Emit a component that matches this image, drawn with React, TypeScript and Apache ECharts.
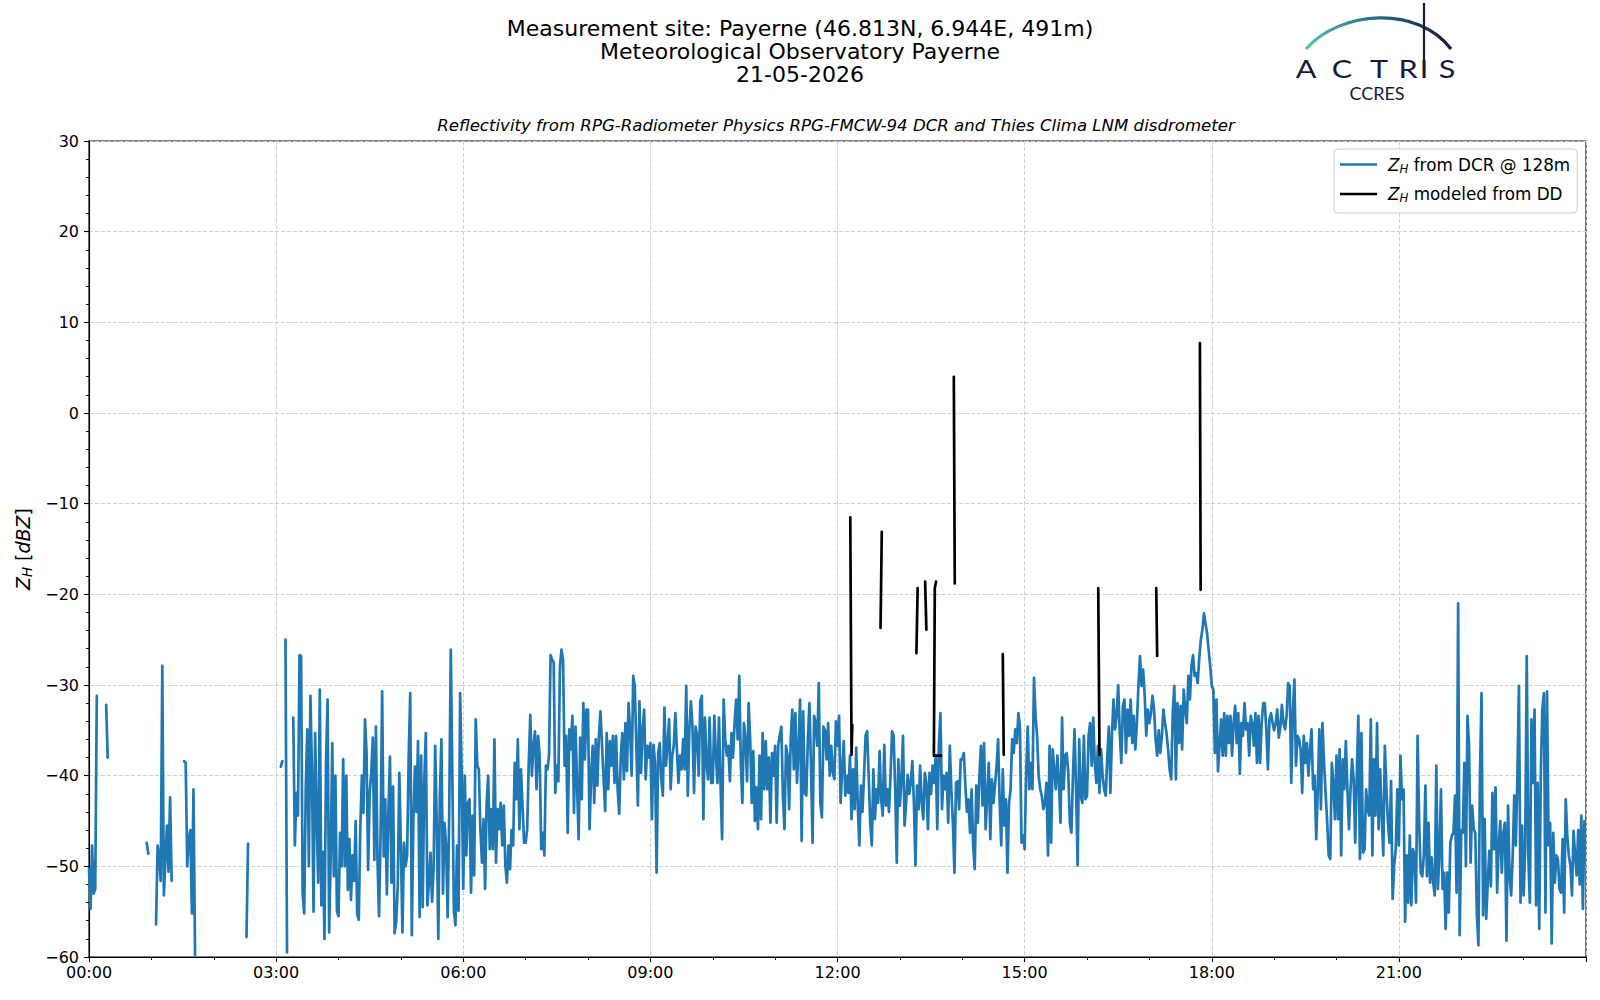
import React, { useEffect, useRef } from "react";
import * as echarts from "echarts";

const FONT = "DejaVu Sans";
const BLUE = "#1f77b4";
const NAVY = "#161a3a";
const N = null;

// Reflectivity from DCR at 128 m: one value every 1.5 min (0.025 h), hour by hour. N = no data
const h00 = [-50.3, -54.7, -47.7, -53, -52.5, -31.2, N, N, N, N, N, -32.2, -38,
  N, N, N, N, N, N, N, N, N, N, N, N, N, N, N, N, N, N, N, N, N, N, N, N, -47.4, -48.6, N];
const h01 = [N, N, N, -56.4, -47.7, -49, -51.6, -27.9, -53.2, -49.2, -45.5, -50.6, -42.4, -51.6,
  N, N, N, N, N, N, N, -38.4, -38.6, -50, -47, -46, -55.2, -41.5, -59.8, N, N, N, N, N, N, N, N, N, N, N];
const h02 = [N, N, N, N, N, N, N, N, N, N, N, N, N, N, N, N, N, N, N, N, N, -57.8, -47.5,
  N, N, N, N, N, N, N, N, N, N, N, N, N, N, N, N, N];
const h03 = [N, N, N, -39, -38.4, N, -25, -59.5, N, N, N, -33.6, -47.7, -41.9, -44.4, -26.7, -26.8, -52.9, -55.2, -41.4,
  -34.9, -50, -31.2, -39.7, -55, -35.3, -44.8, -51.8, -30.5, -54.3, -48.4, -58, -38.6, -31.6, -57.3, -48.8, -36.4, -51.1, -40, -55];
const h04 = [-55.5, -46.3, -50, -38.2, -50, -40, -52.6, -47, -53.7, -48.8, -51.6, -45, -55.3, -55.9, -45.6, -40, -44.1, -33.8, -37.5, -50.4,
  -41.9, -39.7, -35.8, -49.3, -34.6, -49.3, -55.5, -46.3, -30.7, -48.9, -42.6, -53.1, -44.1, -37.9, -51.8, -41.2, -57.4, -56.1, -52.2, -39.7];
const h05 = [-47.7, -57.3, -47.4, -50, -48.8, -38, -30.9, -57.6, -45, -39, -44, -36.2, -55.6, -37.8, -54.5, -40.6, -35.3, -54.3, -51.8, -48.5,
  -53.9, -50.3, -36.7, -45, -58, -42.2, -36, -53, -45.2, -47.7, -55.6, -44, -26.1, -40, -54.9, -56.5, -47.7, -54.9, -30.9, -39.7];
const h06 = [-52.5, -40, -48.8, -43, -42.6, -52.9, -44.4, -51, -33.8, -38.9, -39.3, -46, -49.6, -44.8, -52.5, -43, -40, -48.1, -43.7, -48.1,
  -36, -49.6, -43.7, -45.9, -43, -47.7, -43.3, -49.9, -51.8, -47.7, -50.3, -46, -47.7, -38.6, -42.6, -36, -45.9, -39.3, -43.3, -47.4];
const h07 = [-47.4, -45.9, -38.6, -33.3, -40, -36.7, -35.1, -41.5, -35.6, -37.8, -48.1, -46.3, -48.8, -38.9, -39.3, -37.8, -26.7, -27.2, -27.5, -41.9,
  -38.9, -40.6, -28, -26.1, -27.2, -38.9, -35.6, -46.3, -34.9, -37.1, -33.4, -44.1, -34.6, -41.1, -47, -35.8, -42.6, -32, -38.2, -32.7];
const h08 = [-32.7, -45.9, -40, -36.7, -43, -36, -41.1, -35.6, -32.9, -36.7, -40.4, -43.9, -35.3, -41.5, -36.2, -38.9, -35.6, -40.8, -35.6, -41.5,
  -44.2, -38, -35.3, -40.4, -34.2, -39.5, -32, -35, -40, -29, -30.1, -36.7, -43.3, -31.8, -39.7, -35, -32.7, -40.4, -36.7, -38];
const h09 = [-36.4, -44.8, -36.6, -38.6, -50.7, -37.5, -36.4, -40.4, -42.2, -32.5, -38.9, -36.7, -33.8, -41.5, -37.8, -36.7, -33.1, -37.1, -40.8, -37.8,
  -39.3, -36, -39.3, -30.1, -42.2, -34.9, -31.8, -34.6, -41.9, -34.6, -35.6, -40, -31.8, -31.2, -44.8, -33.6, -38.6, -40.4, -33.6, -40.8];
const h10 = [-40.8, -33.4, -37.8, -40.8, -33.6, -41, -47, -31.6, -36, -37.8, -36.7, -40.6, -35.3, -38, -34.2, -31.6, -36, -29, -38.6, -43,
  -34.2, -36, -40.6, -32, -36, -43, -37.3, -45, -41.3, -45.9, -37.8, -44.8, -35.3, -41.5, -36.2, -41.5, -38, -45.2, -37.5, -40];
const h11 = [-36.7, -45.2, -36.7, -35.5, -34.6, -42.2, -45.9, -36.7, -37.8, -43.7, -36, -32.7, -39.3, -33.1, -40.8, -37, -31.6, -47.2, -32.9, -41.9,
  -42.2, -36, -32, -38.9, -47.4, -33.4, -34.2, -36.7, -29.8, -43, -44.6, -34.6, -35, -38.2, -34.2, -40, -36.7, -39.7, -40.4, -34];
const h12 = [-36.7, -33.4, -43, -39.3, -36.2, -42.2, -40, -41.9, -37.8, -44.8, -39.3, -43.7, -36.9, -43.3, -47.7, -41.1, -44, -40, -35.6, -35.1,
  -40, -45.2, -47.7, -39.3, -44.8, -41.5, -43, -37.3, -42.6, -44.4, -36.6, -43.3, -41.5, -44, -40, -35.1, -35.6, -41.5, -49.6, -38.2];
const h13 = [-43.3, -40.4, -35.6, -45.5, -43, -39.9, -42, -40.8, -38.4, -43, -49.9, -41.1, -43.7, -38.9, -43, -44.8, -39.7, -40.8, -45.9, -39.7,
  -42, -38.9, -40.8, -37.8, -45.9, -36.7, -33.1, -43.7, -40, -41.5, -39.7, -45.2, -36.7, -41.5, -45.2, -50.7, -40.8, -40.6, -43.7, -38.2];
const h14 = [-38.2, -37.5, -41.1, -44, -42.6, -46.3, -41.5, -47.7, -50.3, -41.1, -45.2, -40, -36.7, -43.3, -36.4, -45.9, -42.2, -38.6, -47, -40.4,
  -43, -41, -39, -36, -43, -47.7, -39.3, -45.5, -42.6, -50.7, -43, -41.5, -36, -37.5, -34.9, -36.4, -33.1, -34.6, -47.4, -46.6];
const h15 = [-48.1, -39.7, -34.6, -41.5, -38.6, -41.5, -29.2, -33.4, -35.6, -40, -41.5, -42.2, -43.7, -43, -40.8, -48.8, -36.7, -47.4, -37.1, -39.3,
  -41.5, -37.8, -40.8, -45.2, -33.6, -41.5, -37.8, -37.5, -39.7, -45.2, -46.3, -40, -34.9, -41.5, -49.9, -36, -42.2, -43, -35.6, -42.6];
const h16 = [-42.2, -35.6, -34.2, -38.9, -33.6, -38.6, -40.8, -36.7, -41.9, -37.1, -40, -41.5, -42.2, -38, -34.6, -41.9, -35.6, -31.6, -34.9, -33.4,
  -30, -35.3, -38.6, -32.3, -31.6, -37.5, -32.7, -35.6, -31.6, -36.4, -33.4, -37.1, -34.2, -30, -26.8, -30.1, -28.3, -31.2, -35.6, -32.7];
const h17 = [-34.2, -33.1, -31.2, -32.7, -36, -37.8, -35, -37.5, -35.6, -32.7, -34.2, -35.3, -37.1, -39.3, -40.4, -33, -30.1, -40.4, -32, -36.4,
  -32.3, -37.1, -30.5, -32.7, -34.2, -29, -31.6, -27.9, -26.7, -29, -28.7, -29.8, -27, -25, -23.9, -22.1, -23.2, -24.3, -26.1, -27.9];
const h18 = [-30.1, -30.5, -37.5, -31.6, -39.5, -36.7, -33.8, -37.8, -33.1, -37.8, -33.4, -36.4, -33.4, -37.8, -34.2, -32.3, -36.4, -33.1, -39.8, -34.2,
  -35.6, -32, -34.9, -34.2, -37.8, -33.4, -34.2, -36.7, -33.1, -38.6, -33.4, -38.6, -34.2, -32, -32, -34.9, -39.3, -33.8, -33.1, -34.2];
const h19 = [-35, -34.2, -32.7, -35.8, -34.6, -32.2, -34.2, -34.9, -33.4, -29.8, -30.1, -40.8, -33, -29.4, -38.9, -35.6, -36, -37.1, -41.9, -35.6,
  -38.6, -36.4, -40, -37.1, -34.9, -41.5, -40, -47, -41.5, -34.9, -43.7, -34.2, -38.6, -41.9, -45, -48.8, -49.2, -38.6, -40.8, -44.8];
const h20 = [-37.8, -44.8, -37.1, -48.8, -38.2, -41.5, -36.2, -41.5, -45.9, -41.5, -38.2, -40.4, -47.4, -40, -33.4, -49.2, -35.3, -48.5, -48.1, -41.5,
  -43.7, -44.4, -33.8, -48.8, -38.2, -44.4, -34.2, -45.9, -39.3, -44.4, -48.8, -36.7, -41.5, -45.2, -47.4, -40.6, -53.6, -49.9, -48.1, -41.5];
const h21 = [-47.7, -37.8, -42.6, -41.5, -56.1, -48.8, -54, -46.6, -54.3, -48.1, -48.8, -54, -35.6, -45.2, -50.7, -51.1, -48.8, -41.1, -51.1, -45.2,
  -51.8, -49, -51.8, -53.2, -38.9, -52.5, -48.8, -41.5, -52.5, -50.7, -56.9, -50.7, -55.1, -47.4, -46.6, -46.3, -42.2, -52.9, -21, -57.6];
const h22 = [-46, -46.3, -38.6, -50, -33.4, -36.7, -49.6, -43.3, -45.9, -46.3, -55.2, -58.7, -40, -30.9, -55.4, -44.8, -55.8, -51.8, -48.3, -52.2,
  -41.9, -48.1, -41.3, -52.9, -47.7, -45, -50.7, -46.3, -45.2, -58.2, -43.3, -51.1, -53.2, -48.8, -42.2, -47.7, -40, -30.1, -54, -45.5];
const h23 = [-53.2, -48, -26.8, -48.8, -54, -33.8, -40.8, -32.7, -54.3, -40.8, -56.9, -40, -32.7, -30.9, -55.1, -30.7, -47.7, -45.2, -58.5, -46.3,
  -51.8, -48.8, -49.2, -52.5, -52.9, -47, -55.1, -42.6, -46.6, -48.8, -49.9, -53.2, -46.1, -48.8, -51, -46, -52, -44.4, -54.7, -45];
const dcrHours = [h00, h01, h02, h03, h04, h05, h06, h07, h08, h09, h10, h11, h12, h13, h14, h15, h16, h17, h18, h19, h20, h21, h22, h23];
const STEP_H = 0.025;

// Reflectivity modeled from the disdrometer (hours, dBZ); a null value breaks the line
const ddTimes = [12.205, 12.225, 12.237, 12.3, 12.69, 12.71, 12.8, 13.265, 13.285, 13.35, 13.405, 13.425, 13.5, 13.545, 13.56, 13.58, 13.6, 13.55, 13.66, 13.7, 13.865, 13.88, 14.2, 14.65, 14.665, 15.0, 16.18, 16.2, 16.5, 17.11, 17.125, 17.5, 17.81, 17.822];
const ddValues = [-11.5, -37.7, -34.4, null, -23.7, -13.1, null, -26.5, -19.3, null, -18.6, -23.9, null, -37.8, -19.3, -18.6, null, -37.8, -37.8, null, 4.0, -18.8, null, -26.6, -37.7, null, -19.3, -37.7, null, -19.3, -26.8, null, 7.7, -19.5];

const yMin = -60;
const yMax = 30;
const xHoursMax = 24;

const TITLE_LINES = [
  "Measurement site: Payerne (46.813N, 6.944E, 491m)",
  "Meteorological Observatory Payerne",
  "21-05-2026",
];
const SUBTITLE = "Reflectivity from RPG-Radiometer Physics RPG-FMCW-94 DCR and Thies Clima LNM disdrometer";
const SERIES_DCR = "Z_H from DCR @ 128m";
const SERIES_DD = "Z_H modeled from DD";

export default function App() {
  const ref = useRef<HTMLDivElement>(null);
  useEffect(() => {
    if (!ref.current) return;
    const chart = echarts.init(ref.current, undefined, { renderer: "svg" });
    const dcrData = dcrHours.flatMap((arr, h) => arr.map((v, p) => [h + p * STEP_H, v === null ? "-" : v]));
    const ddData = ddTimes.map((t, i) => [t, ddValues[i] === null ? "-" : ddValues[i]]);

    const legendRich = {
      z: { fontFamily: FONT, fontSize: 16.8, fontStyle: "italic", lineHeight: 20, color: "#000" },
      s: { fontFamily: FONT, fontSize: 11.8, fontStyle: "italic", lineHeight: 8, verticalAlign: "bottom", color: "#000" },
      t: { fontFamily: FONT, fontSize: 16.8, lineHeight: 20, color: "#000" },
    };
    const nameRich = {
      z: { fontFamily: FONT, fontSize: 19, fontStyle: "italic", lineHeight: 23, color: "#000" },
      s: { fontFamily: FONT, fontSize: 13.3, fontStyle: "italic", lineHeight: 9, verticalAlign: "bottom", color: "#000" },
      t: { fontFamily: FONT, fontSize: 19, lineHeight: 23, color: "#000" },
      i: { fontFamily: FONT, fontSize: 19, fontStyle: "italic", lineHeight: 23, color: "#000" },
    };

    const letters = [
      { ch: "A", x: 1306 },
      { ch: "C", x: 1342 },
      { ch: "T", x: 1379 },
      { ch: "R", x: 1408 },
      { ch: "I", x: 1424 },
      { ch: "S", x: 1447 },
    ];

    const option: any = {
      animation: false,
      backgroundColor: "#ffffff",
      textStyle: { fontFamily: FONT },
      grid: {
        left: 89,
        top: 141,
        width: 1497,
        height: 816,
        show: true,
        borderColor: "#000",
        borderWidth: 1.1,
        backgroundColor: "transparent",
        containLabel: false,
        outerBoundsMode: "none",
      },
      legend: {
        left: 1334,
        top: 149,
        orient: "vertical",
        icon: "rect",
        itemWidth: 37,
        itemHeight: 2.7,
        itemGap: 11,
        padding: [7, 7, 9, 6],
        backgroundColor: "rgba(255,255,255,0.8)",
        borderColor: "#cccccc",
        borderWidth: 1,
        borderRadius: 4,
        data: [SERIES_DCR, SERIES_DD],
        formatter: (name: string) =>
          name === SERIES_DCR ? "{z|Z}{s|H}{t| from DCR @ 128m}" : "{z|Z}{s|H}{t| modeled from DD}",
        textStyle: { fontFamily: FONT, fontSize: 16.8, color: "#000", padding: [0, 0, 0, 6], rich: legendRich },
      },
      xAxis: {
        type: "value",
        min: 0,
        max: xHoursMax,
        interval: 3,
        axisLine: { show: true, onZero: false, lineStyle: { color: "#000", width: 1.1 } },
        axisTick: { show: true, length: 5, inside: false, lineStyle: { color: "#000", width: 1.1 } },
        minorTick: { show: true, splitNumber: 3, length: 3, lineStyle: { color: "#000", width: 1 } },
        axisLabel: {
          color: "#000",
          fontFamily: FONT,
          fontSize: 16,
          margin: 7,
          formatter: (v: number) => (v >= xHoursMax ? "" : String(v).padStart(2, "0") + ":00"),
        },
        splitLine: { show: true, lineStyle: { color: "#cfcfcf", width: 1, type: [4, 2] } },
      },
      yAxis: {
        type: "value",
        min: yMin,
        max: yMax,
        interval: 10,
        name: "{z|Z}{s|H}{t| [}{i|dBZ}{t|]}",
        nameLocation: "middle",
        nameRotate: 90,
        nameGap: 55,
        nameTextStyle: { fontFamily: FONT, fontSize: 19, color: "#000", rich: nameRich },
        axisLine: { show: true, onZero: false, lineStyle: { color: "#000", width: 1.1 } },
        axisTick: { show: true, length: 5, inside: false, lineStyle: { color: "#000", width: 1.1 } },
        minorTick: { show: true, splitNumber: 5, length: 3, lineStyle: { color: "#000", width: 1 } },
        axisLabel: {
          color: "#000",
          fontFamily: FONT,
          fontSize: 16,
          margin: 10,
          formatter: (v: number) => (v < 0 ? "\u2212" + Math.abs(v) : String(v)),
        },
        splitLine: { show: true, lineStyle: { color: "#cfcfcf", width: 1, type: [4, 2] } },
      },
      series: [
        {
          name: SERIES_DCR,
          type: "line",
          data: dcrData,
          showSymbol: false,
          symbol: "none",
          connectNulls: false,
          color: BLUE,
          lineStyle: { color: BLUE, width: 2.7, join: "round", cap: "round" },
          z: 2,
        },
        {
          name: SERIES_DD,
          type: "line",
          data: ddData,
          showSymbol: false,
          symbol: "none",
          connectNulls: false,
          color: "#000000",
          lineStyle: { color: "#000000", width: 2.7, join: "round", cap: "round" },
          z: 3,
        },
      ],
      graphic: [
        ...TITLE_LINES.map((t, k) => ({
          type: "text",
          x: 800,
          y: 28.6 + k * 23,
          style: { text: t, fill: "#000", fontFamily: FONT, fontSize: 22, align: "center", verticalAlign: "middle" },
        })),
        {
          type: "text",
          x: 836,
          y: 125.5,
          style: { text: SUBTITLE, fill: "#000", fontFamily: FONT, fontSize: 16.6, fontStyle: "italic", align: "center", verticalAlign: "middle" },
        },
        {
          type: "bezierCurve",
          shape: { x1: 1306, y1: 49, cpx1: 1340, cpy1: 10, cpx2: 1418, cpy2: 5, x2: 1451, y2: 49 },
          style: {
            fill: null,
            lineWidth: 3.2,
            stroke: new echarts.graphic.LinearGradient(0, 0, 1, 0, [
              { offset: 0, color: "#5cbdb5" },
              { offset: 0.45, color: "#2a7088" },
              { offset: 1, color: NAVY },
            ]),
          },
        },
        {
          type: "line",
          shape: { x1: 1424, y1: 3, x2: 1424, y2: 62 },
          style: { stroke: NAVY, lineWidth: 2.2 },
        },
        ...letters.map((l) => ({
          type: "text",
          x: l.x,
          y: 68.3,
          scaleX: 1.2,
          style: { text: l.ch, fill: NAVY, fontFamily: "Lato", fontSize: 25.5, align: "center", verticalAlign: "middle" },
        })),
        {
          type: "text",
          x: 1377,
          y: 92.7,
          style: { text: "CCRES", fill: NAVY, fontFamily: "Lato", fontSize: 18, align: "center", verticalAlign: "middle" },
        },
      ],
    };
    chart.setOption(option);
    return () => chart.dispose();
  }, []);
  return (
    <div
      ref={ref}
      style={{ position: "absolute", left: 0, top: 0, width: 1600, height: 1000, background: "#fff" }}
    />
  );
}
